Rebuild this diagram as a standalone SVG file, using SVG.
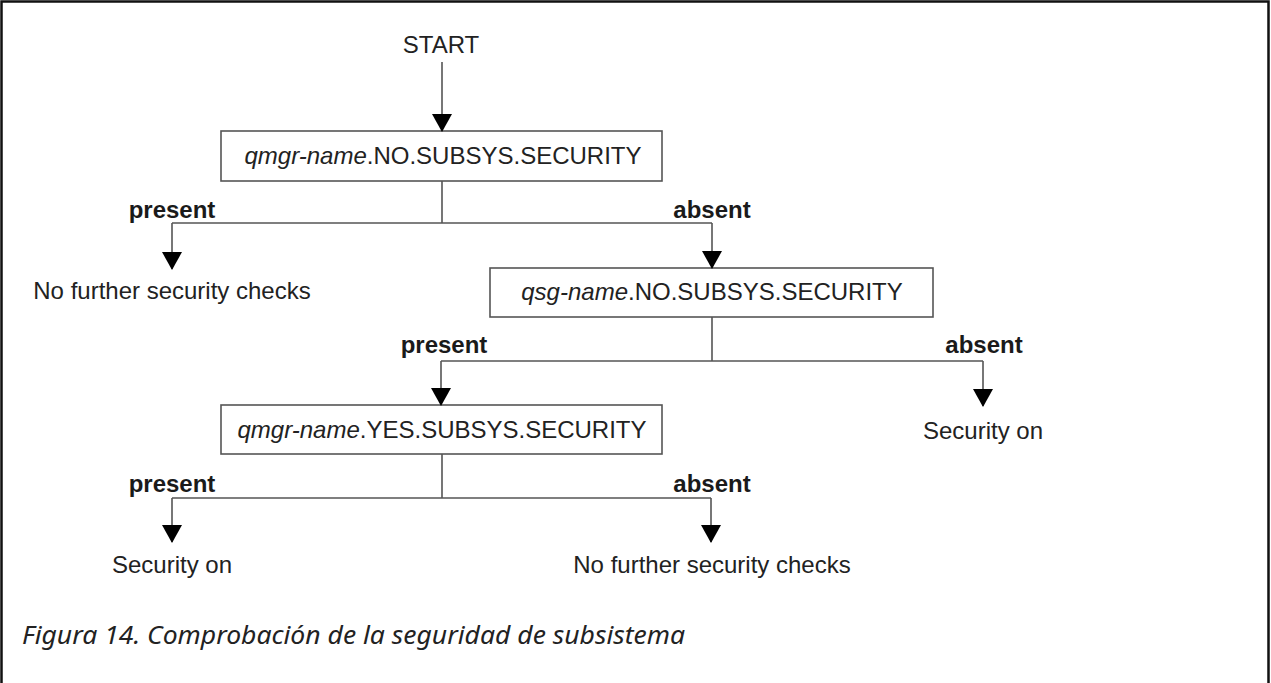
<svg xmlns="http://www.w3.org/2000/svg" width="1271" height="683" viewBox="0 0 1271 683">
<style>
  .t { font-family: "Liberation Sans", Arial, sans-serif; font-size: 24px; fill: #222; }
  .b { font-family: "Liberation Sans", Arial, sans-serif; font-size: 24px; font-weight: bold; fill: #1a1a1a; }
  .i { font-style: italic; }
  .box { fill: #fff; stroke: #555; stroke-width: 1.6; }
  .ln { fill: none; stroke: #555; stroke-width: 1.6; marker-end: url(#ah); }
  .ln2 { fill: none; stroke: #555; stroke-width: 1.6; }
  .cap { font-family: "Noto Sans", "Open Sans", sans-serif; font-style: italic; font-size: 26px; fill: #222; }
</style>
<defs>
  <marker id="ah" markerUnits="userSpaceOnUse" markerWidth="18" markerHeight="20" viewBox="0 0 18 20" refX="17" refY="10" orient="auto">
    <path d="M0,0 L18,10 L0,20 Z" fill="#000"/>
  </marker>
</defs>
<rect width="1271" height="683" fill="#fff"/>
<g id="frame" fill="none" stroke="#111" stroke-width="2.5">
  <path d="M1.5,683 V1.5 H1268.5 V683"/>
</g>
<g id="start"><text class="t" x="441" y="53" text-anchor="middle">START</text></g>
<g id="box1">
  <rect class="box" x="221" y="131" width="441" height="50"/>
  <text class="t" x="443" y="164" text-anchor="middle"><tspan class="i">qmgr-name</tspan>.NO.SUBSYS.SECURITY</text>
</g>
<g id="end1"><text class="t" x="172" y="299" text-anchor="middle">No further security checks</text></g>
<g id="box2">
  <rect class="box" x="490" y="268" width="443" height="49"/>
  <text class="t" x="712" y="300" text-anchor="middle"><tspan class="i">qsg-name</tspan>.NO.SUBSYS.SECURITY</text>
</g>
<g id="end2"><text class="t" x="983" y="439" text-anchor="middle">Security on</text></g>
<g id="box3">
  <rect class="box" x="221" y="405" width="441" height="49"/>
  <text class="t" x="442" y="438" text-anchor="middle"><tspan class="i">qmgr-name</tspan>.YES.SUBSYS.SECURITY</text>
</g>
<g id="end3"><text class="t" x="172" y="573" text-anchor="middle">Security on</text></g>
<g id="end4"><text class="t" x="712" y="573" text-anchor="middle">No further security checks</text></g>
<g id="connectors">
  <path class="ln" d="M442,62 V131"/>
  <path class="ln2" d="M442,181 V223 M172,223 H712 M712,317 V361 M441,361 H983 M442,454 V498 M172,498 H711"/>
  <path class="ln" d="M172,223 V269"/>
  <path class="ln" d="M712,223 V268"/>
  <path class="ln" d="M441,361 V405"/>
  <path class="ln" d="M983,361 V406"/>
  <path class="ln" d="M172,498 V542"/>
  <path class="ln" d="M711,498 V542"/>
  <text class="b" x="172" y="218" text-anchor="middle">present</text>
  <text class="b" x="712" y="218" text-anchor="middle">absent</text>
  <text class="b" x="444" y="353" text-anchor="middle">present</text>
  <text class="b" x="984" y="353" text-anchor="middle">absent</text>
  <text class="b" x="172" y="492" text-anchor="middle">present</text>
  <text class="b" x="712" y="492" text-anchor="middle">absent</text>
</g>
<g id="caption"><text class="cap" x="22" y="644" textLength="663" lengthAdjust="spacingAndGlyphs">Figura 14. Comprobación de la seguridad de subsistema</text></g>
</svg>
